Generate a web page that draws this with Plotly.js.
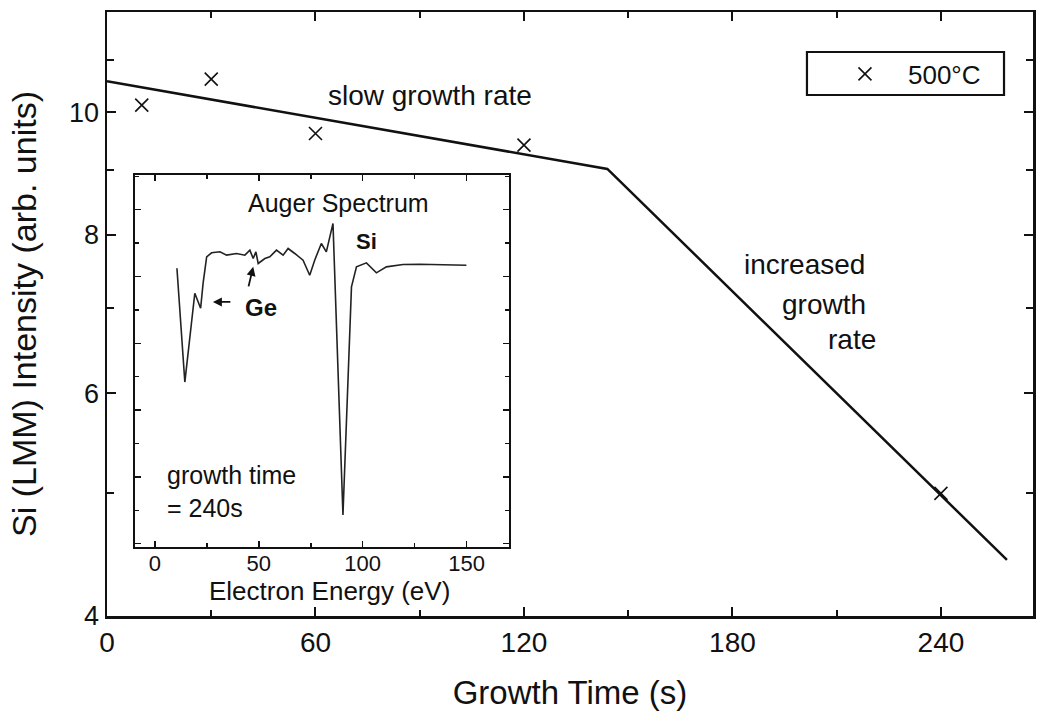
<!DOCTYPE html>
<html>
<head>
<meta charset="utf-8">
<script src="https://cdn.plot.ly/plotly-3.0.1.min.js"></script>
<style>
  html, body { margin: 0; padding: 0; background: #ffffff; }
  #chart { width: 1037px; height: 716px; }
</style>
</head>
<body>
<div id="chart"></div>
<script>
// Main panel: Si (LMM) Auger intensity vs growth time at 500 °C
const growthTime = [10, 30, 60, 120, 240];
const siIntensity = [10.13, 10.62, 9.62, 9.42, 5.0];
// Piecewise fit line (slow growth rate, then increased growth rate)
const fitTime = [0, 144, 259];
const fitIntensity = [10.58, 9.02, 4.43];
const seriesName = "500°C";

// Inset: Auger spectrum, growth time = 240 s (arbitrary units)
const energy = [10.6, 14.4, 19.2, 22.0, 23.2, 24.9, 27.3, 31.3, 34.5, 39.3, 43.3, 45.7, 47.3, 48.6, 49.7,
                52.9, 55.3, 58.5, 61.7, 64.1, 67.3, 71.3, 74.5, 76.9, 80.1, 82.5, 85.7, 90.5, 94.6, 97.0,
                101.8, 106.6, 111.4, 119.4, 127.4, 149.9];
const augerSignal = [8.35, 4.94, 7.60, 7.15, 7.90, 8.69, 8.81, 8.84, 8.74, 8.79, 8.74, 8.89, 8.64, 8.84, 8.49,
                     8.64, 8.69, 8.89, 8.74, 8.94, 8.79, 8.59, 8.14, 8.59, 9.09, 8.84, 9.69, 0.96, 7.79, 8.39,
                     8.51, 8.21, 8.39, 8.46, 8.47, 8.44];

const mainXTicks = [0, 60, 120, 180, 240];
const mainYTicks = [4, 6, 8, 10];
const mainYMinor = [5, 7, 9, 11];
const insetXTicks = [0, 50, 100, 150];

const FONT = "Liberation Sans, Arial, Helvetica, sans-serif";
const INK = "#111111";

const traces = [
  {
    x: fitTime, y: fitIntensity, type: "scatter", mode: "lines",
    line: { color: INK, width: 2.5 }, showlegend: false, hoverinfo: "skip",
    xaxis: "x", yaxis: "y"
  },
  {
    x: growthTime, y: siIntensity, type: "scatter", mode: "markers", name: seriesName,
    marker: { symbol: "x-thin", size: 13, color: INK, line: { color: INK, width: 1.6 } },
    xaxis: "x", yaxis: "y"
  },
  {
    x: energy, y: augerSignal, type: "scatter", mode: "lines",
    line: { color: "#222222", width: 1.6 }, showlegend: false, hoverinfo: "skip",
    xaxis: "x2", yaxis: "y2"
  }
];

const layout = {
  width: 1037, height: 716,
  margin: { l: 107, r: 4, t: 12, b: 100 },
  paper_bgcolor: "#ffffff", plot_bgcolor: "#ffffff",
  font: { family: FONT, color: INK, size: 24 },
  showlegend: true,
  legend: {
    x: 0.7721, y: 0.8974, xanchor: "left", yanchor: "middle",
    bgcolor: "rgba(0,0,0,0)", borderwidth: 0, itemwidth: 76,
    font: { family: FONT, size: 26, color: INK }
  },
  xaxis: {
    domain: [0, 1], range: [0, 266.5], anchor: "y",
    showline: true, linecolor: INK, linewidth: 2.5, mirror: "ticks",
    ticks: "inside", ticklen: 9, tickwidth: 2, tickcolor: INK,
    tickvals: mainXTicks, ticktext: mainXTicks.map(String),
    minor: { dtick: 30, tick0: 0, ticks: "inside", ticklen: 6, tickwidth: 2, tickcolor: INK },
    showgrid: false, zeroline: false,
    tickfont: { family: FONT, size: 28, color: INK },
    title: { text: "Growth Time (s)", font: { family: FONT, size: 33, color: INK }, standoff: 24 }
  },
  yaxis: {
    domain: [0, 1], type: "log", range: [Math.log10(4), Math.log10(12)], anchor: "x",
    showline: true, linecolor: INK, linewidth: 2.5, mirror: "ticks",
    ticks: "inside", ticklen: 9, tickwidth: 2, tickcolor: INK,
    tickvals: mainYTicks, ticktext: mainYTicks.map(String),
    minor: { tickvals: mainYMinor, ticks: "inside", ticklen: 7, tickwidth: 2, tickcolor: INK },
    showgrid: false, zeroline: false,
    tickfont: { family: FONT, size: 27, color: INK },
    title: { text: "Si (LMM) Intensity (arb. units)", font: { family: FONT, size: 34, color: INK }, standoff: 22 }
  },
  xaxis2: {
    domain: [0.0302, 0.4341], range: [-9.6, 170.4], anchor: "y2",
    showline: true, linecolor: INK, linewidth: 1.8, mirror: "ticks",
    ticks: "inside", ticklen: 6, tickwidth: 1.5, tickcolor: INK,
    tickvals: insetXTicks, ticktext: insetXTicks.map(String),
    minor: { dtick: 25, tick0: 0, ticks: "inside", ticklen: 4, tickwidth: 1.5, tickcolor: INK },
    showgrid: false, zeroline: false, ticklabelstandoff: -4,
    tickfont: { family: FONT, size: 22, color: INK }
  },
  yaxis2: {
    domain: [0.1142, 0.7301], range: [0, 11.14], anchor: "x2",
    showline: true, linecolor: INK, linewidth: 1.8, mirror: "ticks",
    ticks: "inside", ticklen: 6, tickwidth: 1.5, tickcolor: INK,
    tick0: 0.1, dtick: 2, showticklabels: false,
    minor: { dtick: 1, tick0: 0.1, ticks: "inside", ticklen: 4, tickwidth: 1.5, tickcolor: INK },
    showgrid: false, zeroline: false
  },
  shapes: [
    { type: "rect", xref: "paper", yref: "paper", x0: 0.7559, x1: 0.9687, y0: 0.8626, y1: 0.9338,
      line: { color: INK, width: 2.2 }, fillcolor: "rgba(0,0,0,0)" }
  ],
  annotations: [
    { xref: "x", yref: "y", x: 93, y: 1.0134, text: "slow growth rate", showarrow: false,
      font: { family: FONT, size: 28, color: INK } },
    { xref: "x", yref: "y", x: 200.6, y: 0.8794, text: "increased", showarrow: false,
      font: { family: FONT, size: 28, color: INK } },
    { xref: "x", yref: "y", x: 206.3, y: 0.8485, text: "growth", showarrow: false,
      font: { family: FONT, size: 28, color: INK } },
    { xref: "x", yref: "y", x: 214.4, y: 0.8201, text: "rate", showarrow: false,
      font: { family: FONT, size: 28, color: INK } },
    { xref: "x2", yref: "y2", x: 88.5, y: 10.3, text: "Auger Spectrum", showarrow: false,
      font: { family: FONT, size: 25, color: INK } },
    { xref: "x2", yref: "y2", x: 95.7, y: 9.14, xanchor: "left", text: "<b>Si</b>", showarrow: false,
      font: { family: FONT, size: 22, color: INK } },
    { xref: "x2", yref: "y2", x: 42.5, y: 7.16, xanchor: "left", text: "<b>Ge</b>", showarrow: false,
      font: { family: FONT, size: 24, color: INK } },
    { xref: "x2", yref: "y2", x: 27.9, y: 7.34, text: "", showarrow: true, ax: 19, ay: 0,
      arrowhead: 2, arrowsize: 1, arrowwidth: 1.8, arrowcolor: INK },
    { xref: "x2", yref: "y2", x: 47.3, y: 8.39, text: "", showarrow: true, ax: -5, ay: 21,
      arrowhead: 2, arrowsize: 1, arrowwidth: 1.8, arrowcolor: INK },
    { xref: "x2", yref: "y2", x: 4.8, y: 2.16, xanchor: "left", text: "growth time", showarrow: false,
      font: { family: FONT, size: 25, color: INK } },
    { xref: "x2", yref: "y2", x: 4.8, y: 1.17, xanchor: "left", text: "= 240s", showarrow: false,
      font: { family: FONT, size: 25, color: INK } },
    { xref: "x2", yref: "paper", x: 84.1, y: 0.0695, yanchor: "top", text: "Electron Energy (eV)", showarrow: false,
      font: { family: FONT, size: 26, color: INK } }
  ]
};

Plotly.newPlot("chart", traces, layout, { displayModeBar: false, staticPlot: true });
</script>
</body>
</html>
